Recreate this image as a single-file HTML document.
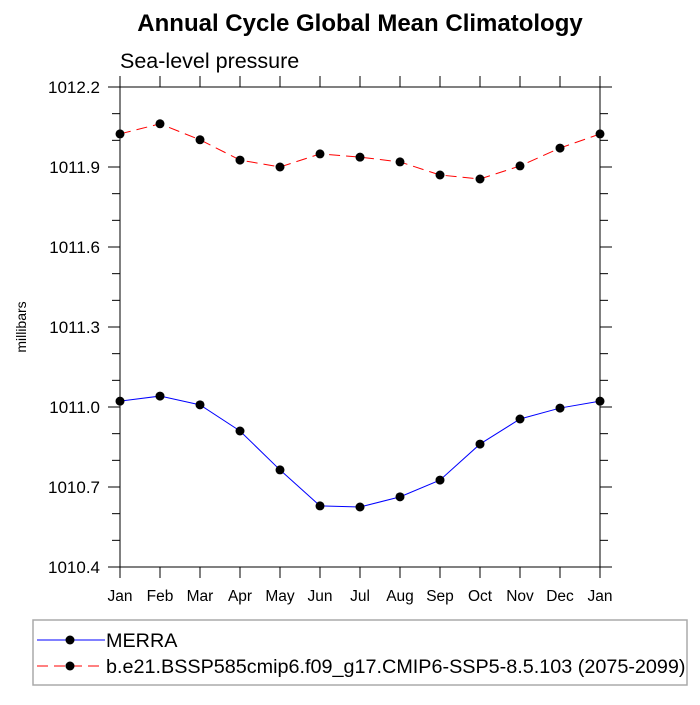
<!DOCTYPE html>
<html><head><meta charset="utf-8"><style>
html,body{margin:0;padding:0;background:#fff;}
svg text{font-family:"Liberation Sans",sans-serif;}
</style></head><body>
<svg id="chart" width="700" height="700" xmlns="http://www.w3.org/2000/svg">
<text x="360" y="31" text-anchor="middle" font-size="24" font-weight="bold">Annual Cycle Global Mean Climatology</text>
<text x="120" y="68" font-size="21.5">Sea-level pressure</text>
<text transform="translate(26,327) rotate(-90)" text-anchor="middle" font-size="14">millibars</text>
<g id="axes"></g>
<g id="series"></g>
<rect x="33" y="620" width="654" height="65" fill="#fff" stroke="#aaa" stroke-width="1.5"/>
<line x1="37" y1="640" x2="105" y2="640" stroke="#00f" stroke-width="1"/>
<circle cx="70" cy="640" r="4.5" fill="#000"/>
<text x="106" y="647" font-size="19.8">MERRA</text>
<line x1="37" y1="666" x2="105" y2="666" stroke="#f00" stroke-width="1" stroke-dasharray="11,6"/>
<circle cx="70" cy="666" r="4.5" fill="#000"/>
<text x="106" y="673" font-size="19.8">b.e21.BSSP585cmip6.f09_g17.CMIP6-SSP5-8.5.103 (2075-2099)</text>
</svg>
<script>
const months=["Jan","Feb","Mar","Apr","May","Jun","Jul","Aug","Sep","Oct","Nov","Dec","Jan"];
const merra=[1011.022,1011.041,1011.008,1010.91,1010.764,1010.629,1010.625,1010.663,1010.726,1010.861,1010.955,1010.996,1011.022];
const model=[1012.024,1012.062,1012.002,1011.926,1011.9,1011.949,1011.937,1011.919,1011.87,1011.855,1011.904,1011.971,1012.024];
const yTicks=[1010.4,1010.7,1011.0,1011.3,1011.6,1011.9,1012.2];
const NS="http://www.w3.org/2000/svg";
const L=120,R=600,T=87,B=567,yMin=1010.4,yMax=1012.2;
const xS=i=>L+i*(R-L)/(months.length-1);
const yS=v=>B-(v-yMin)/(yMax-yMin)*(B-T);
function mk(tag,attrs,parent){const e=document.createElementNS(NS,tag);for(const k in attrs)e.setAttribute(k,attrs[k]);parent.appendChild(e);return e;}
const ax=document.getElementById('axes');
const frame=mk('rect',{x:L,y:T,width:R-L,height:B-T,fill:'none',stroke:'#000','stroke-width':1},ax);


months.forEach((m,i)=>{const x=xS(i);
mk('line',{x1:x,y1:B,x2:x,y2:B+11,stroke:'#000'},ax);
mk('line',{x1:x,y1:T,x2:x,y2:T-11,stroke:'#000'},ax);
const t=mk('text',{x:x,y:B+34,'text-anchor':'middle','font-size':15.5},ax);t.textContent=m;

});
for(let v=yMin;v<=yMax+1e-6;v+=0.1){const y=yS(v);const maj=Math.abs(((v-yMin)/0.3)-Math.round((v-yMin)/0.3))<1e-3;const len=maj?12:8;
mk('line',{x1:L,y1:y,x2:L-len,y2:y,stroke:'#000'},ax);
mk('line',{x1:R,y1:y,x2:R+len,y2:y,stroke:'#000'},ax);}
yTicks.forEach(v=>{const t=mk('text',{x:L-20,y:yS(v)+6,'text-anchor':'end','font-size':17},ax);t.textContent=v.toFixed(1);

});
const sg=document.getElementById('series');
function series(vals,color,dash,name){
const p=mk('polyline',{points:vals.map((v,i)=>xS(i)+','+yS(v)).join(' '),fill:'none',stroke:color,'stroke-width':1,'stroke-dasharray':dash},sg);


vals.forEach((v,i)=>{const c=mk('circle',{cx:xS(i),cy:yS(v),r:4.5,fill:'#000'},sg);

});}
series(merra,'#00f','none','merra');
series(model,'#f00','11,6','model');
</script>
</body></html>
